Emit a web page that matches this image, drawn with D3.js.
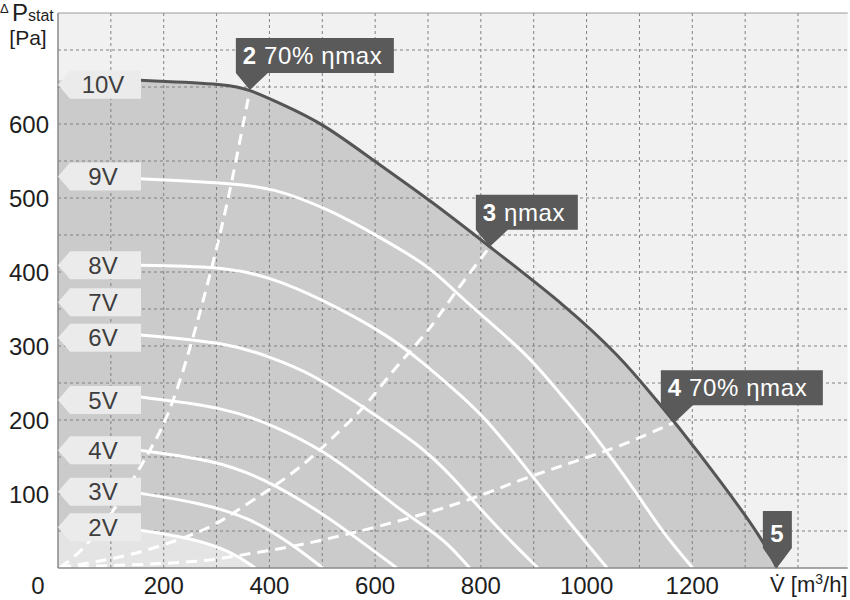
<!DOCTYPE html>
<html><head><meta charset="utf-8">
<script src="https://cdn.jsdelivr.net/npm/d3@7"></script>
<style>body{margin:0;background:#fff}svg{display:block;font-family:"Liberation Sans",Arial,sans-serif}</style>
</head><body>
<svg id="c" width="850" height="600"></svg>
<script>
// ---- data ----
const flowTicks = [200, 400, 600, 800, 1000, 1200];
const pressureTicks = [100, 200, 300, 400, 500, 600];
const tagLabels = ["10V", "9V", "8V", "7V", "6V", "5V", "4V", "3V", "2V"];
const tagPressure = [653, 529, 409, 359, 311, 227, 159, 103, 55];

// characteristic curves [flow m3/h, pressure Pa]
const curve10V = [[155,659],[325,654],[363,646],[420,628],[501,601],[596,551],[704,497],[817,434],[963,353],[1063,286],[1126,232],[1167,197],[1252,119],[1334,38],[1360,0]];
const curve9V = [[155,526],[325,520],[407,514],[515,484],[609,447],[704,407],[747,376],[812,335],[893,285],[955,231],[993,200],[1050,146],[1095,101],[1145,47],[1201,0]];
const curve8V = [[155,409],[325,407],[420,389],[539,349],[628,312],[685,281],[766,231],[817,196],[899,123],[963,65],[1039,0]];
const curve6V = [[155,315],[325,304],[401,285],[477,264],[577,218],[685,166],[747,123],[812,69],[868,28],[908,0]];
const curve5V = [[155,231],[312,218],[414,191],[501,159],[577,119],[641,82],[704,51],[736,34],[779,0]];
const curve4V = [[155,159],[293,146],[388,122],[501,74],[577,34],[641,0]];
const curve3V = [[155,101],[269,88],[363,68],[439,34],[501,0]];
const curve2V = [[155,51],[250,41],[330,22],[373,0]];

// efficiency lines
const eff2 = [[4,1],[42,20],[98,69],[142,119],[174,159],[199,191],[231,250],[272,353],[301,434],[325,507],[363,646]];
const eff3 = [[4,1],[136,15],[282,51],[331,74],[407,109],[477,146],[533,186],[577,214],[641,274],[704,322],[747,369],[817,434]];
const eff4 = [[4,1],[136,4],[269,8],[350,18],[439,28],[520,41],[596,54],[698,74],[779,92],[874,119],[969,142],[1063,164],[1167,197]];

const calloutNum = ["2", "3", "4", "5"];
const calloutText = [" 70% ηmax", " ηmax", " 70% ηmax", ""];

// ---- scales ----
const x = d3.scaleLinear().domain([0, 1400]).range([58, 798]);
const y = d3.scaleLinear().domain([0, 700]).range([568, 50]);
const svg = d3.select("#c");
const xMax = 1494, yMax = 750;

// plot background
svg.append("rect").attr("x", x(0)).attr("y", y(yMax))
  .attr("width", x(xMax) - x(0)).attr("height", y(0) - y(yMax)).attr("fill", "#f1f1f1");

const area = d3.area().x(d => x(d[0])).y0(y(0)).y1(d => y(d[1])).curve(d3.curveBasis);
svg.append("path").datum([[0, curve10V[0][1]], ...curve10V]).attr("d", area).attr("fill", "#cbcbcb");
svg.append("path").datum([[0, curve2V[0][1]], ...curve2V]).attr("d", area).attr("fill", "#e4e4e4");

// grid
const g = svg.append("g").attr("stroke", "#808080").attr("stroke-width", 1).attr("stroke-dasharray", "3,3");
d3.range(100, xMax, 100).forEach(v => g.append("line").attr("x1", x(v)).attr("x2", x(v)).attr("y1", y(0)).attr("y2", y(yMax)));
d3.range(50, yMax, 50).forEach(v => g.append("line").attr("y1", y(v)).attr("y2", y(v)).attr("x1", x(0)).attr("x2", x(xMax)));

const line = d3.line().x(d => x(d[0])).y(d => y(d[1])).curve(d3.curveBasis);

// white voltage curves
[curve9V, curve8V, curve6V, curve5V, curve4V, curve3V, curve2V].forEach(c =>
  svg.append("path").datum(c).attr("d", line).attr("fill", "none").attr("stroke", "#fff").attr("stroke-width", 3));

// dashed efficiency lines
[eff2, eff3, eff4].forEach(c =>
  svg.append("path").datum(c).attr("d", line).attr("fill", "none").attr("stroke", "#fff")
    .attr("stroke-width", 3).attr("stroke-dasharray", "11,7"));

// max curve
svg.append("path").datum(curve10V).attr("d", line).attr("fill", "none").attr("stroke", "#555").attr("stroke-width", 3);

// axes lines
svg.append("line").attr("x1", x(0)).attr("x2", x(xMax)).attr("y1", y(0)).attr("y2", y(0)).attr("stroke", "#8a8a8a").attr("stroke-width", 1.5);
svg.append("line").attr("x1", x(0)).attr("x2", x(0)).attr("y1", y(0)).attr("y2", y(yMax)).attr("stroke", "#8a8a8a").attr("stroke-width", 1.5);
svg.append("line").attr("x1", x(0)).attr("x2", x(xMax)).attr("y1", y(yMax)).attr("y2", y(yMax)).attr("stroke", "#9a9a9a").attr("stroke-width", 1);

// voltage tags
tagLabels.forEach((t, i) => {
  const cy = y(tagPressure[i]), x0 = x(0), h = 14;
  svg.append("polygon")
    .attr("points", [[x0, cy], [x0 + 12, cy - h], [x0 + 83, cy - h], [x0 + 83, cy + h], [x0 + 12, cy + h]].map(p => p.join(",")).join(" "))
    .attr("fill", "#ebebeb");
  svg.append("text").attr("x", x0 + 45).attr("y", cy + 8.5).attr("text-anchor", "middle")
    .attr("font-size", 24).attr("fill", "#3e3e3e").text(t);
});

// callouts
const anchors = [eff2[eff2.length - 1], eff3[eff3.length - 1], eff4[eff4.length - 1], curve10V[curve10V.length - 1]];
const boxW = [158, 102, 162];
anchors.forEach((a, i) => {
  const tx = x(a[0]), ty = y(a[1]);
  if (i < 3) {
    const L = tx - 14, B = ty - 17, T = B - 35, R = L + boxW[i];
    svg.append("polygon").attr("points", [[L, T], [R, T], [R, B], [L + 32, B], [tx, ty], [L, B]].map(p => p.join(",")).join(" "))
      .attr("fill", "#5a5a5a");
    const txt = svg.append("text").attr("x", L + 7).attr("y", B - 9).attr("font-size", 24).attr("fill", "#fff").attr("letter-spacing", 0.6);
    txt.append("tspan").attr("font-weight", "bold").text(calloutNum[i]);
    txt.append("tspan").text(calloutText[i]);
  } else {
    const L = tx - 14, R = tx + 15, T = ty - 57, B = ty - 20;
    svg.append("polygon").attr("points", [[L, T], [R, T], [R, B], [tx, ty], [L, B]].map(p => p.join(",")).join(" "))
      .attr("fill", "#5a5a5a");
    svg.append("text").attr("x", tx).attr("y", ty - 26).attr("text-anchor", "middle").attr("font-size", 24)
      .attr("font-weight", "bold").attr("fill", "#fff").text(calloutNum[i]);
  }
});

// tick labels
svg.selectAll(".xt").data(flowTicks).enter().append("text")
  .attr("x", d => x(d)).attr("y", 594).attr("text-anchor", "middle").attr("font-size", 24).attr("fill", "#1e1e1e").text(d => d);
svg.selectAll(".yt").data(pressureTicks).enter().append("text")
  .attr("x", 49).attr("y", d => y(d) + 8.5).attr("text-anchor", "end").attr("font-size", 24).attr("fill", "#1e1e1e").text(d => d);
svg.append("text").attr("x", 38).attr("y", 594).attr("text-anchor", "middle").attr("font-size", 24).attr("fill", "#1e1e1e").text("0");

// axis titles
const yt = svg.append("text").attr("fill", "#1e1e1e");
yt.append("tspan").attr("x", 0).attr("y", 13).attr("font-size", 13).text("Δ");
yt.append("tspan").attr("x", 12).attr("y", 21).attr("font-size", 24).text("P");
yt.append("tspan").attr("y", 21).attr("font-size", 16).text("stat");
svg.append("text").attr("x", 28).attr("y", 45).attr("text-anchor", "middle").attr("font-size", 21).attr("fill", "#1e1e1e").text("[Pa]");

const xtl = svg.append("text").attr("x", 770).attr("y", 592).attr("font-size", 22).attr("fill", "#1e1e1e");
xtl.append("tspan").text("V̇ [m");
xtl.append("tspan").attr("font-size", 14).attr("dy", -8).text("3");
xtl.append("tspan").attr("dy", 8).text("/h]");
</script>
</body></html>
